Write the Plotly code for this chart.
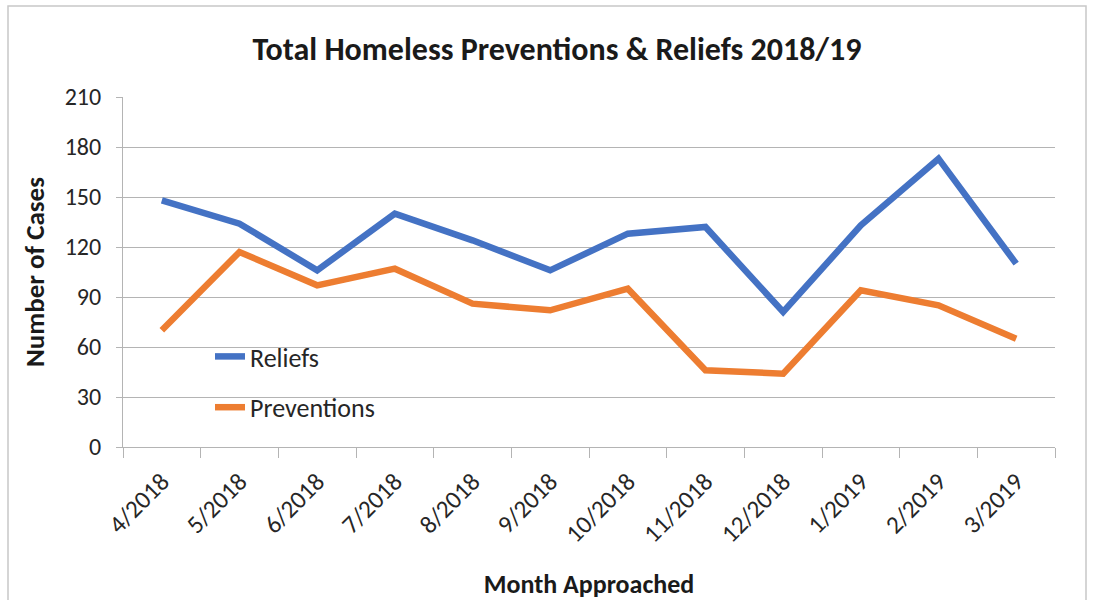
import plotly.graph_objects as go

months = ["4/2018", "5/2018", "6/2018", "7/2018", "8/2018", "9/2018",
          "10/2018", "11/2018", "12/2018", "1/2019", "2/2019", "3/2019"]
reliefs = [148, 134, 106, 140, 124, 106, 128, 132, 81, 133, 173, 110]
preventions = [70, 117, 97, 107, 86, 82, 95, 46, 44, 94, 85, 65]
y_ticks = [0, 30, 60, 90, 120, 150, 180, 210]

FONT = "Carlito, Lato, 'Open Sans', sans-serif"
GRID = "#B4B4B4"
TXT = "#262626"

W, H = 1101, 600
L, R, T, B = 123, 46, 97, 153
pw, ph = W - L - R, H - T - B

fig = go.Figure()
fig.add_trace(go.Scatter(x=months, y=reliefs, name="Reliefs", mode="lines",
                         legendgroup="r",
                         line=dict(color="#4472C4", width=6.5)))
fig.add_trace(go.Scatter(x=months, y=preventions, name="Preventions", mode="lines",
                         legendgroup="p",
                         line=dict(color="#ED7D31", width=6.5)))

# outer chart frame (bottom edge runs off the page)
fig.add_shape(type="rect", xref="paper", yref="paper",
              x0=(8 - L) / pw, x1=(1086 - L) / pw,
              y0=-0.6, y1=(T + ph - 6) / ph,
              line=dict(color="#C8C8C8", width=1.5), fillcolor="rgba(0,0,0,0)",
              layer="below")

fig.update_layout(
    width=W, height=H,
    margin=dict(l=L, r=R, t=T, b=B, autoexpand=False),
    paper_bgcolor="white", plot_bgcolor="white",
    font=dict(family=FONT, color=TXT),
    title=dict(text="<b>Total Homeless Preventions &amp; Reliefs 2018/19</b>",
               x=557 / W, xanchor="center", xref="container",
               y=1 - 49 / H, yanchor="middle",
               font=dict(size=32, color="#1a1a1a", family=FONT)),
    showlegend=True,
    legend=dict(x=(210 - L) / pw, y=(T + ph - 333) / ph, xanchor="left", yanchor="top",
                bgcolor="rgba(0,0,0,0)", font=dict(size=26, family=FONT, color=TXT),
                traceorder="grouped", tracegroupgap=14, itemwidth=30),
    xaxis=dict(
        type="category", range=[-0.5, len(months) - 0.5], automargin=False,
        tickson="boundaries", ticks="outside", ticklen=10, tickcolor=GRID, tickwidth=1,
        showline=True, linecolor=GRID, linewidth=1, showgrid=False,
        tickangle=-45, ticklabelstandoff=9,
        tickfont=dict(size=25, family=FONT, color=TXT),
        title=dict(text="<b>Month Approached</b>", font=dict(size=26, family=FONT, color="#1a1a1a"),
                   standoff=27),
    ),
    yaxis=dict(
        range=[0, 210], tickvals=y_ticks, ticks="outside", ticklen=6, tickcolor=GRID,
        automargin=False,
        showline=True, linecolor=GRID, linewidth=1,
        showgrid=True, gridcolor=GRID, gridwidth=1, zeroline=False,
        ticklabelstandoff=10,
        tickfont=dict(size=24, family=FONT, color=TXT),
        title=dict(text="<b>Number of Cases</b>", font=dict(size=27, family=FONT, color="#1a1a1a"),
                   standoff=12),
    ),
)

fig.write_html("out.html")
